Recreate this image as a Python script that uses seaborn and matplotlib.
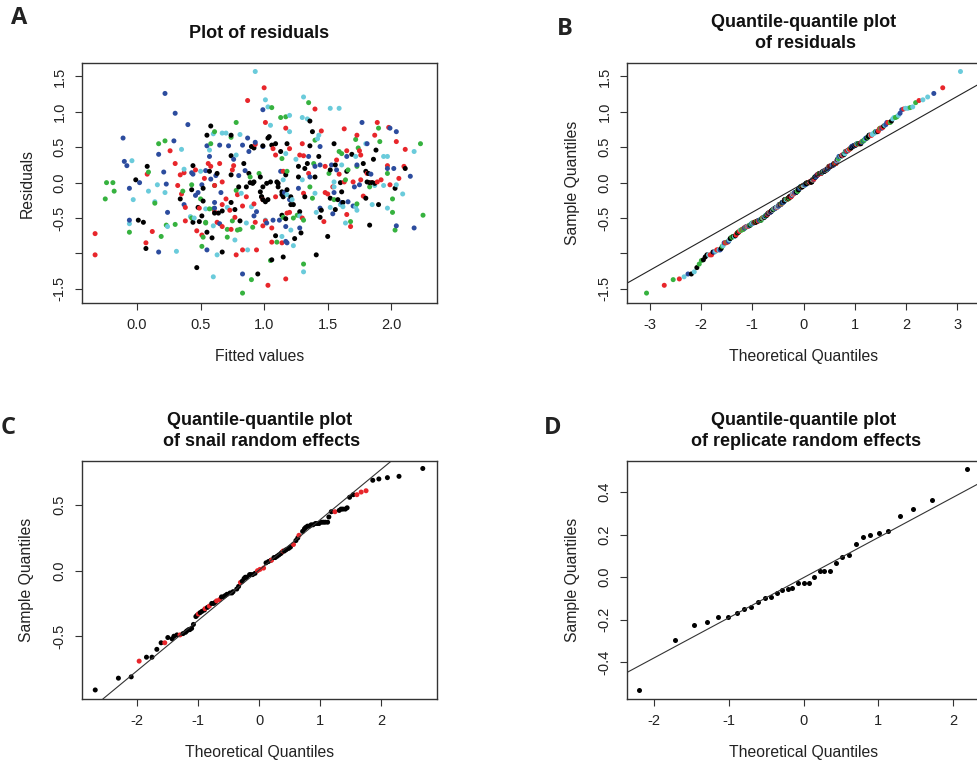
"""
Model diagnostics: residual scatter + three normal Q-Q plots (panels A-D)
"""
from statistics import NormalDist

import matplotlib
matplotlib.use("Agg")
import matplotlib.pyplot as plt
import pandas as pd
import seaborn as sns

# ────────────────────────────────────────────────────────────────────────────
# 1. Data
# ────────────────────────────────────────────────────────────────────────────
# Panel A – residuals vs fitted values, one pair of lists per colour group
black_fit = [-0.01, 0.01, 0.05, 0.07, 0.08, 0.34, 0.43, 0.44, 0.44, 0.47, 0.48, 0.49, 0.51, 0.52,
             0.55, 0.59, 0.55, 0.58, 0.57, 0.61, 0.64, 0.67, 0.63, 0.74, 0.67, 0.74, 0.77, 0.81,
             0.74, 0.74, 0.80, 0.84, 0.88, 0.89, 0.90, 0.92, 0.95, 0.97, 0.98, 0.99, 0.99, 1.04,
             1.03, 1.06, 1.09, 1.06, 1.09, 1.18, 1.13, 1.17, 1.11, 1.15, 1.14, 1.21, 1.23, 1.14,
             1.17, 1.15, 1.24, 1.29, 1.28, 1.36, 1.38, 1.36, 1.43, 1.34, 1.27, 1.32, 1.27, 1.32,
             1.40, 1.52, 1.55, 1.45, 1.44, 1.41, 1.50, 1.52, 1.56, 1.58, 1.56, 1.60, 1.61, 1.62,
             1.65, 1.69, 1.78, 1.80, 1.80, 1.81, 1.83, 1.82, 1.85, 1.83, 1.88, 1.86, 1.87, 1.90,
             2.03, 2.11, 0.99, 0.97, 0.98, 1.01, 1.03, 1.02, 1.05, 1.10, 1.11, 1.14, 1.18, 1.21,
             0.92, 0.91, 0.86, 0.52]
black_res = [0.04, -0.53, -0.56, -0.93, 0.23, -0.23, -0.10, 0.24, -0.56, -1.20, -0.35, -0.55, -0.47, -0.26,
             -0.70, -0.78, 0.67, 0.80, 0.16, -0.43, -0.43, -0.98, 0.13, 0.67, -0.40, -0.28, -0.38, -0.54,
             0.38, 0.11, -0.06, 0.27, 0.13, 0.00, 0.51, 0.49, -1.29, 0.08, -0.20, -0.24, 0.52, 0.65,
             0.63, -1.09, -0.75, 0.53, 0.55, 0.55, 0.44, 0.11, -0.01, -0.20, -0.17, -0.31, -0.31, -0.46,
             -0.51, -1.05, -0.79, -0.71, -0.41, 0.87, 0.72, 0.52, 0.37, 0.27, 0.23, 0.20, 0.08, -0.20,
             0.08, 0.18, 0.55, -0.39, -0.49, -1.02, -0.76, -0.22, -0.38, -0.24, 0.25, 0.00, -0.13, -0.28,
             0.16, 0.40, 0.27, 0.16, -0.22, 0.01, 0.00, 0.13, 0.00, -0.60, 0.46, 0.33, -0.01, -0.31,
             -0.08, 0.20, -0.06, -0.13, -0.20, -0.27, -0.24, -0.01, 0.01, 0.01, -0.06, -0.13, -0.10, -0.20,
             0.01, -0.01, -0.06, -0.08]

red_fit = [-0.33, -0.33, 0.07, 0.08, 0.12, 0.26, 0.30, 0.32, 0.34, 0.35, 0.37, 0.38, 0.38, 0.46,
           0.47, 0.49, 0.51, 0.53, 0.56, 0.58, 0.61, 0.63, 0.67, 0.65, 0.67, 0.73, 0.74, 0.77,
           0.78, 0.76, 0.75, 0.79, 0.83, 0.87, 0.83, 0.86, 0.92, 0.93, 0.94, 0.93, 0.99, 1.00,
           1.01, 1.01, 0.99, 1.03, 1.06, 1.06, 1.07, 1.17, 1.09, 1.20, 1.15, 1.09, 1.18, 1.20,
           1.14, 1.17, 1.30, 1.40, 1.30, 1.45, 1.28, 1.31, 1.35, 1.31, 1.48, 1.48, 1.50, 1.47,
           1.54, 1.57, 1.59, 1.63, 1.63, 1.65, 1.65, 1.68, 1.70, 1.73, 1.75, 1.76, 1.76, 1.78,
           1.81, 1.85, 1.89, 1.87, 1.89, 1.92, 1.97, 1.98, 1.99, 2.04, 2.06, 2.10, 2.11, 0.61,
           0.70, 0.67]
red_res = [-0.72, -1.02, -0.85, 0.12, -0.69, 0.45, 0.27, -0.04, 0.11, -0.16, 0.14, -0.35, -0.54, 0.18,
           -0.68, -0.36, -0.74, 0.06, 0.27, 0.23, -0.41, -0.56, -0.62, 0.27, 0.01, -0.39, -0.66, -0.49,
           -1.02, 0.24, 0.18, -0.17, -0.33, 1.16, -0.95, -0.20, -0.30, 0.54, -0.95, -0.56, -0.24, 1.34,
           0.85, -0.54, -0.61, -1.45, -0.84, -0.64, 0.48, 0.77, 0.39, 0.48, 0.16, -0.20, -0.43, -0.42,
           -0.85, -1.36, -0.50, 1.04, 0.55, 0.73, 0.39, 0.38, 0.13, -0.15, 0.23, -0.14, -0.16, -0.55,
           -0.06, 0.32, 0.12, 0.76, 0.01, 0.45, -0.45, -0.62, 0.01, 0.67, 0.45, 0.04, 0.39, -0.19,
           0.13, 0.00, 0.85, 0.67, 0.01, 0.04, 0.24, 0.78, -0.03, 0.58, 0.06, 0.23, 0.47, -0.04,
           -0.23, -0.31]

green_fit = [-0.25, -0.24, -0.19, -0.18, -0.06, 0.09, 0.14, 0.17, 0.19, 0.22, 0.23, 0.30, 0.36, 0.43,
             0.43, 0.50, 0.51, 0.52, 0.54, 0.58, 0.61, 0.60, 0.61, 0.74, 0.71, 0.71, 0.79, 0.78,
             0.78, 0.83, 0.89, 0.91, 0.90, 0.96, 1.06, 1.05, 1.10, 1.13, 1.17, 1.14, 1.18, 1.15,
             1.23, 1.26, 1.31, 1.31, 1.35, 1.40, 1.39, 1.36, 1.38, 1.51, 1.55, 1.59, 1.61, 1.64,
             1.66, 1.68, 1.72, 1.73, 1.74, 1.73, 1.83, 1.90, 1.91, 1.97, 2.01, 2.01, 2.03, 2.23,
             2.25, 0.57, 0.54, 0.75, 0.81]
green_res = [-0.23, 0.00, 0.00, -0.12, -0.70, 0.15, -0.29, 0.55, -0.76, 0.59, -0.60, -0.59, -0.12, -0.03,
             -0.50, -0.23, -0.90, -0.77, -0.56, 0.55, 0.72, -0.37, -0.04, 0.64, -0.66, -0.77, -0.67, 0.85,
             -0.11, -1.56, 0.08, -0.63, -1.37, 0.13, 1.06, -1.10, -0.84, 0.92, 0.93, 0.34, 0.16, -0.49,
             -0.50, -0.46, -1.15, -0.53, 1.13, 0.60, 0.27, -0.06, -0.22, 0.13, -0.24, 0.44, 0.41, 0.04,
             0.18, -0.55, 0.61, 0.23, 0.49, -0.30, -0.06, 0.77, 0.58, 0.13, -0.23, -0.42, -0.67, 0.55,
             -0.46, -0.37, -0.57, -0.54, -0.66]

blue_fit = [-0.11, -0.10, -0.08, -0.06, -0.06, 0.02, 0.17, 0.17, 0.21, 0.22, 0.23, 0.24, 0.29, 0.30,
            0.37, 0.40, 0.43, 0.44, 0.46, 0.48, 0.51, 0.54, 0.55, 0.55, 0.57, 0.58, 0.61, 0.65,
            0.62, 0.65, 0.72, 0.76, 0.80, 0.83, 0.85, 0.87, 0.83, 0.88, 0.92, 0.93, 0.94, 0.99,
            0.99, 1.02, 1.07, 1.12, 1.13, 1.16, 1.20, 1.17, 1.17, 1.18, 1.28, 1.35, 1.36, 1.40,
            1.44, 1.27, 1.44, 1.44, 1.54, 1.55, 1.53, 1.57, 1.61, 1.65, 1.66, 1.70, 1.71, 1.73,
            1.75, 1.77, 1.81, 1.84, 1.97, 1.99, 2.02, 2.04, 2.04, 2.15, 2.18, 0.66, 0.61]
blue_res = [0.63, 0.30, 0.24, -0.08, -0.53, 0.00, -0.98, 0.40, 0.15, 1.26, -0.02, -0.42, 0.59, 0.98,
            -0.31, 0.82, 0.14, 0.12, -0.18, -0.14, -0.03, 0.17, -0.95, 0.52, 0.37, 0.05, -0.28, -0.58,
            0.10, 0.53, 0.52, 0.33, 0.10, 0.53, 0.17, 0.63, -1.29, 0.44, -0.47, 0.57, -0.41, 0.51,
            1.03, -0.57, -0.53, -0.53, 0.16, -0.14, -0.24, -0.62, -0.83, -0.85, -0.64, 0.37, 0.08, 0.23,
            0.25, -0.08, 0.51, -0.36, -0.44, -0.14, 0.25, 0.18, -0.28, 0.37, -0.27, -0.33, -0.06, 0.25,
            -0.03, 0.85, 0.55, 0.12, 0.20, 0.77, 0.20, -0.61, 0.72, 0.09, -0.64, -0.14, -0.36]

cyan_fit = [-0.04, -0.03, -0.06, 0.09, 0.14, 0.16, 0.22, 0.24, 0.31, 0.35, 0.37, 0.42, 0.45, 0.50,
            0.54, 0.57, 0.60, 0.60, 0.63, 0.67, 0.70, 0.71, 0.77, 0.81, 0.78, 0.82, 0.87, 0.86,
            0.90, 0.93, 1.01, 1.03, 1.05, 1.01, 1.20, 1.20, 1.17, 1.15, 1.18, 1.22, 1.14, 1.21,
            1.23, 1.28, 1.31, 1.30, 1.31, 1.34, 1.43, 1.42, 1.25, 1.30, 1.40, 1.41, 1.52, 1.55,
            1.52, 1.59, 1.61, 1.55, 1.60, 1.62, 1.64, 1.72, 1.73, 1.72, 1.80, 1.85, 1.87, 1.94,
            1.97, 1.97, 1.94, 2.04, 2.09, 2.18, 0.60]
cyan_res = [0.31, -0.24, -0.58, -0.12, -0.27, -0.03, -0.14, -0.62, -0.97, 0.47, 0.19, -0.48, -0.50, 0.16,
            -0.37, 0.46, 0.69, -1.33, -1.02, 0.70, 0.70, -0.35, -0.81, 0.68, 0.39, -0.15, -0.95, -0.57,
            -0.34, 1.57, 1.17, 1.07, 0.81, -0.53, 0.95, 0.72, 0.41, 0.04, -0.17, -0.24, -0.76, -0.67,
            -0.89, -0.47, -1.26, 0.92, 1.21, 0.90, 0.67, 0.62, 0.33, 0.04, -0.15, -0.42, -0.35, -0.06,
            1.05, 1.05, 0.25, 0.01, -0.31, -0.34, -0.57, 0.37, -0.39, -0.34, 0.55, -0.31, -0.04, 0.37,
            0.37, -0.36, -0.04, -0.03, -0.16, 0.44, -0.61]

GROUPS = ["black", "red", "green", "blue", "cyan"]
PALETTE = {"black": "#000000", "red": "#E8262B", "green": "#36B23F",
           "blue": "#2C4C9E", "cyan": "#6ACBDB"}

# Panel B – Q-Q reference line (intercept, slope)
qqline_b = (-0.01, 0.41)

# Panel C – snail random effects (theoretical quantile, sample quantile, colour)
snail_theo = [-2.69, -2.31, -2.10, -1.97, -1.85, -1.76, -1.68, -1.61, -1.55, -1.50, -1.43, -1.40,
              -1.35, -1.30, -1.25, -1.21, -1.19, -1.16, -1.14, -1.11, -1.08, -1.04, -1.02, -1.00,
              -0.97, -0.94, -0.90, -0.89, -0.85, -0.82, -0.78, -0.75, -0.72, -0.70, -0.65, -0.62,
              -0.59, -0.56, -0.53, -0.48, -0.45, -0.43, -0.37, -0.34, -0.31, -0.28, -0.25, -0.23,
              -0.21, -0.16, -0.14, -0.11, -0.07, -0.03, 0.01, 0.07, 0.11, 0.15, 0.19, 0.20,
              0.24, 0.26, 0.29, 0.32, 0.35, 0.37, 0.39, 0.41, 0.44, 0.48, 0.51, 0.56,
              0.60, 0.63, 0.65, 0.71, 0.74, 0.76, 0.79, 0.82, 0.85, 0.88, 0.92, 0.95,
              0.98, 1.02, 1.05, 1.08, 1.12, 1.14, 1.18, 1.24, 1.31, 1.34, 1.37, 1.41,
              1.44, 1.48, 1.54, 1.60, 1.67, 1.75, 1.86, 1.96, 2.10, 2.29, 2.68]
snail_sample = [-0.91, -0.82, -0.81, -0.69, -0.66, -0.66, -0.60, -0.55, -0.55, -0.51, -0.52, -0.50,
                -0.49, -0.49, -0.48, -0.47, -0.46, -0.45, -0.45, -0.44, -0.41, -0.35, -0.34, -0.33,
                -0.32, -0.31, -0.30, -0.29, -0.28, -0.27, -0.25, -0.25, -0.24, -0.23, -0.22, -0.20,
                -0.20, -0.19, -0.18, -0.17, -0.17, -0.16, -0.14, -0.12, -0.09, -0.08, -0.06, -0.05,
                -0.05, -0.03, -0.03, -0.03, -0.02, 0.00, 0.01, 0.02, 0.06, 0.07, 0.08, 0.08,
                0.10, 0.10, 0.11, 0.12, 0.13, 0.14, 0.15, 0.15, 0.16, 0.17, 0.18, 0.20,
                0.23, 0.25, 0.27, 0.30, 0.32, 0.33, 0.34, 0.34, 0.35, 0.35, 0.36, 0.36,
                0.36, 0.37, 0.37, 0.37, 0.37, 0.41, 0.45, 0.45, 0.46, 0.47, 0.47, 0.47,
                0.48, 0.56, 0.58, 0.58, 0.60, 0.61, 0.69, 0.70, 0.71, 0.72, 0.78]
snail_group = ["black", "black", "black", "red", "black", "black", "black", "black", "red", "black",
               "black", "black", "black", "red", "black", "black", "black", "black", "black", "black",
               "black", "black", "black", "red", "black", "black", "black", "red", "black", "red",
               "black", "black", "black", "red", "red", "black", "black", "black", "black", "black",
               "black", "black", "black", "black", "red", "black", "black", "black", "black", "black",
               "black", "black", "black", "red", "red", "red", "black", "black", "black", "red",
               "black", "black", "black", "black", "black", "black", "red", "black", "black", "black",
               "black", "red", "black", "black", "red", "black", "black", "black", "black", "black",
               "black", "black", "black", "black", "black", "black", "black", "black", "black", "black",
               "black", "red", "black", "black", "black", "black", "black", "black", "black", "red",
               "red", "red", "black", "black", "black", "black", "black"]
qqline_c = (0.006, 0.384)

# Panel D – replicate random effects
rep_theo = [-2.20, -1.72, -1.47, -1.29, -1.14, -1.01, -0.89, -0.80, -0.70, -0.61, -0.52, -0.44,
            -0.36, -0.29, -0.21, -0.15, -0.07, 0.00, 0.08, 0.14, 0.22, 0.28, 0.36, 0.44,
            0.52, 0.61, 0.70, 0.79, 0.89, 1.01, 1.13, 1.29, 1.47, 1.72, 2.19]
rep_sample = [-0.529, -0.295, -0.226, -0.212, -0.188, -0.185, -0.169, -0.151, -0.138, -0.118, -0.096, -0.091,
              -0.075, -0.060, -0.053, -0.049, -0.027, -0.025, -0.025, 0.003, 0.031, 0.031, 0.030, 0.069,
              0.096, 0.104, 0.157, 0.191, 0.199, 0.207, 0.218, 0.287, 0.320, 0.362, 0.511]
qqline_d = (-0.002, 0.189)

# ────────────────────────────────────────────────────────────────────────────
# 2. Tidy frames
# ────────────────────────────────────────────────────────────────────────────
fits = {"black": black_fit, "red": red_fit, "green": green_fit, "blue": blue_fit, "cyan": cyan_fit}
ress = {"black": black_res, "red": red_res, "green": green_res, "blue": blue_res, "cyan": cyan_res}
df_a = pd.concat([pd.DataFrame({"fitted": fits[g], "resid": ress[g], "group": g}) for g in GROUPS],
                 ignore_index=True).sort_values("fitted")

# Q-Q of the residuals (R's ppoints: (i - 0.5) / n)
df_b = df_a.sort_values("resid").reset_index(drop=True)
n_b = len(df_b)
df_b["theo"] = [NormalDist().inv_cdf((i + 0.5) / n_b) for i in range(n_b)]

df_c = pd.DataFrame({"theo": snail_theo, "sample": snail_sample, "group": snail_group})
df_d = pd.DataFrame({"theo": rep_theo, "sample": rep_sample})

# ────────────────────────────────────────────────────────────────────────────
# 3. Plot
# ────────────────────────────────────────────────────────────────────────────
sns.set_style("ticks")
plt.rcParams["font.family"] = ["Liberation Sans", "DejaVu Sans"]
TXT = "#222222"
W, H = 977, 767

fig = plt.figure(figsize=(W / 100, H / 100), dpi=100)


def px_axes(left, top, width, height):
    return fig.add_axes([left / W, 1 - (top + height) / H, width / W, height / H])


def style(ax, h_px, w_px, xlim, ylim, xticks, xlabels, yticks, ylabels, xlabel, ylabel, title):
    ax.set_xlim(xlim)
    ax.set_ylim(ylim)
    ax.set_xticks(xticks, xlabels)
    ax.set_yticks(yticks, ylabels)
    ax.tick_params(direction="out", length=5, width=0.8, color="#333333",
                   labelcolor=TXT, labelsize=10.5, pad=6)
    ax.tick_params(axis="y", labelrotation=90)
    for tl in ax.get_yticklabels():
        tl.set_va("center")
    for sp in ax.spines.values():
        sp.set_visible(True)
        sp.set_color("#333333")
        sp.set_linewidth(1.0)
    ax.set_xlabel(xlabel, fontsize=11.3, color=TXT)
    ax.set_ylabel(ylabel, fontsize=11.3, color=TXT)
    ax.xaxis.label.set_va("center")
    ax.yaxis.label.set_va("center")
    ax.xaxis.set_label_coords(0.5, -54 / h_px)
    ax.yaxis.set_label_coords(-55 / w_px, 0.5)
    ax.annotate(title, xy=(0.5, 1), xycoords="axes fraction", xytext=(0, 30 * 0.72),
                textcoords="offset points", ha="center", va="center",
                fontsize=13, fontweight="bold", color="#111111", linespacing=1.3)


def letter(x_px, y_px, s):
    fig.text(x_px / W, 1 - y_px / H, s, ha="left", va="center", fontsize=17,
             fontweight="bold", color="#222222", family=["Open Sans", "DejaVu Sans"])


DOT = 13

# A
ax_a = px_axes(82, 63, 355, 240)
sns.scatterplot(data=df_a, x="fitted", y="resid", hue="group", palette=PALETTE,
                s=DOT, linewidth=0, legend=False, ax=ax_a)
style(ax_a, 240, 355, (-0.433, 2.36), (-1.70, 1.69),
      [0, 0.5, 1, 1.5, 2], ["0.0", "0.5", "1.0", "1.5", "2.0"],
      [-1.5, -1, -0.5, 0, 0.5, 1, 1.5], ["-1.5", "", "-0.5", "0.0", "0.5", "1.0", "1.5"],
      "Fitted values", "Residuals", "Plot of residuals")

# B
ax_b = px_axes(627, 63, 353, 240)
ax_b.axline((0, qqline_b[0]), slope=qqline_b[1], color="#222222", lw=0.8)
sns.scatterplot(data=df_b, x="theo", y="resid", hue="group", palette=PALETTE,
                s=DOT, linewidth=0, legend=False, ax=ax_b)
style(ax_b, 240, 353, (-3.44, 3.44), (-1.70, 1.69),
      [-3, -2, -1, 0, 1, 2, 3], ["-3", "-2", "-1", "0", "1", "2", "3"],
      [-1.5, -1, -0.5, 0, 0.5, 1, 1.5], ["-1.5", "", "-0.5", "0.0", "0.5", "1.0", "1.5"],
      "Theoretical Quantiles", "Sample Quantiles", "Quantile-quantile plot\n of residuals")

# C
ax_c = px_axes(82, 461, 355, 238)
ax_c.axline((0, qqline_c[0]), slope=qqline_c[1], color="#333333", lw=0.8)
sns.scatterplot(data=df_c, x="theo", y="sample", hue="group", palette=PALETTE,
                s=DOT, linewidth=0, legend=False, ax=ax_c)
style(ax_c, 238, 355, (-2.907, 2.913), (-0.979, 0.837),
      [-2, -1, 0, 1, 2], ["-2", "-1", "0", "1", "2"],
      [-0.5, 0, 0.5], ["-0.5", "0.0", "0.5"],
      "Theoretical Quantiles", "Sample Quantiles",
      "Quantile-quantile plot\n of snail random effects")

# D
ax_d = px_axes(627, 461, 353, 238)
ax_d.axline((0, qqline_d[0]), slope=qqline_d[1], color="#333333", lw=0.8)
sns.scatterplot(data=df_d, x="theo", y="sample", color="#000000",
                s=DOT, linewidth=0, legend=False, ax=ax_d)
style(ax_d, 238, 353, (-2.36, 2.36), (-0.573, 0.547),
      [-2, -1, 0, 1, 2], ["-2", "-1", "0", "1", "2"],
      [-0.4, -0.2, 0, 0.2, 0.4], ["-0.4", "-0.2", "0.0", "0.2", "0.4"],
      "Theoretical Quantiles", "Sample Quantiles",
      "Quantile-quantile plot\n of replicate random effects")

letter(11, 18, "A")
letter(557, 29, "B")
letter(1, 428, "C")
letter(544, 428, "D")

fig.savefig("out.png", dpi=100)
